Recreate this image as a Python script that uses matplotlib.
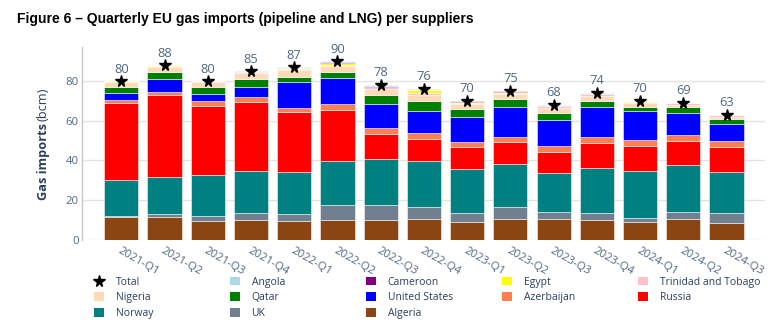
import matplotlib
matplotlib.use("Agg")
import matplotlib.pyplot as plt
from matplotlib.patches import Patch
from matplotlib.lines import Line2D
import numpy as np

plt.rcParams['font.family'] = ['Open Sans', 'DejaVu Sans']

quarters = ["2021-Q1", "2021-Q2", "2021-Q3", "2021-Q4", "2022-Q1", "2022-Q2", "2022-Q3",
            "2022-Q4", "2023-Q1", "2023-Q2", "2023-Q3", "2023-Q4", "2024-Q1", "2024-Q2", "2024-Q3"]

algeria    = [11.7, 11.6, 9.5, 10.2, 9.5, 9.9, 9.9, 10.7, 8.9, 10.7, 10.7, 10.2, 9.2, 10.7, 8.4]
uk         = [0.3, 1.3, 2.6, 3.2, 3.4, 7.7, 7.7, 5.7, 4.5, 5.9, 3.5, 3.2, 1.7, 3.5, 5.0]
norway     = [18.2, 18.6, 20.4, 21.1, 21.3, 21.9, 22.9, 23.1, 22.4, 21.6, 19.3, 22.8, 23.6, 23.3, 20.8]
russia     = [38.8, 41.2, 34.8, 34.8, 30.0, 25.7, 12.9, 11.1, 11.1, 10.9, 10.9, 12.7, 12.7, 12.2, 12.7]
azerbaijan = [1.4, 1.7, 2.5, 2.6, 2.3, 3.0, 2.9, 3.0, 2.5, 2.5, 2.8, 2.9, 3.1, 2.9, 2.8]
us         = [3.6, 6.3, 3.4, 5.2, 12.7, 13.0, 11.9, 11.2, 12.6, 15.1, 12.9, 14.9, 14.4, 11.2, 8.8]
qatar      = [2.7, 3.7, 3.7, 3.6, 2.9, 3.4, 4.7, 5.2, 3.7, 4.0, 3.9, 3.3, 2.1, 3.0, 2.1]
nigeria    = [2.6, 2.6, 2.5, 3.2, 3.3, 2.8, 2.8, 2.9, 2.5, 2.5, 2.4, 2.4, 2.0, 1.3, 1.2]
trinidad   = [0.3, 0.6, 0.3, 0.4, 0.4, 0.8, 1.0, 1.0, 0.9, 0.8, 0.8, 0.8, 0.8, 0.7, 0.9]
egypt      = [0.2, 0.2, 0.1, 0.1, 0.6, 1.0, 0.3, 1.4, 0.2, 0.5, 0.1, 0.1, 0.1, 0.0, 0.0]
cameroon   = [0.1, 0.1, 0.1, 0.1, 0.1, 0.2, 0.2, 0.3, 0.4, 0.2, 0.2, 0.2, 0.1, 0.1, 0.1]
angola     = [0.1, 0.1, 0.1, 0.5, 0.5, 0.6, 0.8, 0.4, 0.3, 0.3, 0.5, 0.5, 0.2, 0.1, 0.2]
totals     = [80, 88, 80, 85, 87, 90, 78, 76, 70, 75, 68, 74, 70, 69, 63]

series = [
    ("Algeria", algeria, "#8B4513"),
    ("UK", uk, "#708090"),
    ("Norway", norway, "#008080"),
    ("Russia", russia, "#FF0000"),
    ("Azerbaijan", azerbaijan, "#FF7F50"),
    ("United States", us, "#0000FF"),
    ("Qatar", qatar, "#008000"),
    ("Nigeria", nigeria, "#FFDAB9"),
    ("Trinidad and Tobago", trinidad, "#FFC0CB"),
    ("Egypt", egypt, "#FFFF00"),
    ("Cameroon", cameroon, "#800080"),
    ("Angola", angola, "#ADD8E6"),
]
colors = {n: c for n, _, c in series}

W, H = 784, 324
fig = plt.figure(figsize=(W / 100, H / 100), dpi=100)
ax_l, ax_r, ax_b, ax_t = 81.7, 765, 240, 47
ax = fig.add_axes([ax_l / W, 1 - ax_b / H, (ax_r - ax_l) / W, (ax_b - ax_t) / H])

x = np.arange(len(quarters))
bottom = np.zeros(len(quarters))
for name, vals, col in series:
    v = np.array(vals)
    ax.bar(x, v, 0.79, bottom=bottom, color=col, edgecolor=(1, 1, 1, 0.6), linewidth=0.6, zorder=2)
    bottom += v

ax.plot(x, totals, linestyle="none", marker="*", color="black", markersize=8.5, zorder=4)
for xi, t in zip(x, totals):
    ax.annotate(str(t), (xi, t), xytext=(0, 8.5), textcoords="offset points",
                ha="center", va="center", fontsize=9.3, color="#506784", zorder=5)

ax.set_xlim(-0.916, 14.89)
ax.set_ylim(0, 97)
ax.set_yticks([0, 20, 40, 60, 80])
ax.grid(axis="y", color="#e3e3e3", linewidth=1, zorder=0)
ax.set_axisbelow(True)
for s in ["top", "right", "bottom"]:
    ax.spines[s].set_visible(False)
ax.spines["left"].set_color("#c8c8c8")
ax.spines["left"].set_linewidth(1)
ax.tick_params(axis="y", length=0, pad=2, labelsize=8.2, labelcolor="#506784")
ax.tick_params(axis="x", length=0, pad=4, labelsize=8.2, labelcolor="#506784")
ax.set_xticks(x)
ax.set_xticklabels(quarters, rotation=-30, ha="left", va="top", rotation_mode="anchor")

# title
fig.text(16.7 / W, 1 - 19 / H, "Figure 6 \u2013 Quarterly EU gas imports (pipeline and LNG) per suppliers",
         fontsize=10.0, fontweight="bold", color="black", va="center", ha="left",
         family=["Liberation Sans Narrow", "Liberation Sans", "DejaVu Sans"])

# y label (bold part + regular part)
renderer = fig.canvas.get_renderer()
t1 = fig.text(43 / W, 1 - 200 / H, "Gas imports", rotation=90, ha="center", va="bottom",
              fontsize=9.2, fontweight="bold", color="#2a3f5f")
bb = t1.get_window_extent(renderer)
t2 = fig.text(43 / W, (bb.y1 + 2) / H, "(bcm)", rotation=90, ha="center", va="bottom",
              fontsize=9.2, color="#2a3f5f")

# legend in 5 columns
cols = [
    ["Total", "Nigeria", "Norway"],
    ["Angola", "Qatar", "UK"],
    ["Cameroon", "United States", "Algeria"],
    ["Egypt", "Azerbaijan"],
    ["Trinidad and Tobago", "Russia"],
]
col_x = [99, 235, 371, 507, 643]
for cx, names in zip(col_x, cols):
    handles = []
    for n in names:
        if n == "Total":
            handles.append(Line2D([], [], linestyle="none", marker="*", color="black", markersize=8.5))
        else:
            handles.append(Patch(facecolor=colors[n], edgecolor="none"))
    leg = fig.legend(handles, names, loc="upper left",
                     bbox_to_anchor=((cx - 4.75) / W, 1 - 276.5 / H),
                     frameon=False, fontsize=7.5, borderpad=0, borderaxespad=0,
                     handlelength=0.95, handleheight=0.95, handletextpad=1.1,
                     labelspacing=0.45, labelcolor="#2a3f5f")

fig.savefig("out.png", dpi=100, facecolor="white")
